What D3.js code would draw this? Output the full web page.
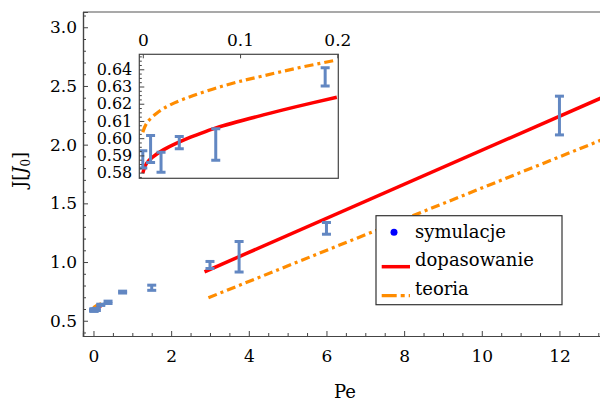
<!DOCTYPE html>
<meta charset="utf-8">
<style>
body { margin: 0; background: #fff; }
svg { font-family: "DejaVu Serif", serif; }
.axis line, .axis path { stroke: #444; }
</style>
<svg width="600" height="403"></svg>
<script src="https://d3js.org/d3.v7.min.js"></script>
<script>

// symulacje: Pe, J, blad
var pe = [0, 0.008, 0.01875, 0.0375, 0.075, 0.1875, 0.375, 0.75, 1.5, 3, 3.75, 6, 12];
var jVal = [0.5877, 0.5937, 0.586, 0.5974, 0.5963, 0.6356, 0.657, 0.744, 0.781, 0.975, 1.045, 1.287, 2.248];
var jErr = [0.005, 0.0078, 0.0058, 0.0036, 0.0091, 0.0053, 0.01, 0.008, 0.022, 0.03, 0.13, 0.05, 0.165];

// dopasowanie
var fitPeSmall = [0, 0.004, 0.0108, 0.0211, 0.0383, 0.0555, 0.076, 0.124, 0.158, 0.1995];
var fitJSmall = [0.5797, 0.5855, 0.5893, 0.5932, 0.598, 0.6019, 0.6061, 0.6135, 0.6183, 0.6238];
var fitPeBig = [2.86, 13.07];
var fitJBig = [0.917, 2.397];

// teoria
var theoPeSmall = [0, 0.004, 0.0143, 0.028, 0.0486, 0.0725, 0.0966, 0.124, 0.158, 0.1995];
var theoJSmall = [0.6034, 0.6087, 0.6145, 0.6193, 0.6241, 0.6286, 0.6325, 0.6362, 0.6406, 0.6454];
var theoPeBig = [2.96, 13.07];
var theoJBig = [0.696, 2.038];

var xTicks = [0, 2, 4, 6, 8, 10, 12];
var yTicks = [0.5, 1.0, 1.5, 2.0, 2.5, 3.0];
var insetXTicks = [0, 0.1, 0.2];
var insetYTicks = [0.58, 0.59, 0.60, 0.61, 0.62, 0.63, 0.64];
var legendNames = ["symulacje", "dopasowanie", "teoria"];

var blue = "#6287c2", red = "#ff0000", orange = "#ff8c00";
var dotdash = "9,4,3,4";

var svg = d3.select("svg");

var x = d3.scaleLinear().domain([-0.27, 13.07]).range([83, 601]);
var y = d3.scaleLinear().domain([0.37, 3.13]).range([336, 12]);

var points = pe.map(function(p, i) { return {pe: p, j: jVal[i], e: jErr[i]}; });
function zip(a, b) { return a.map(function(v, i) { return [v, b[i]]; }); }

// ramka glowna
svg.append("line").attr("x1", 83).attr("x2", 601).attr("y1", 12).attr("y2", 12)
  .attr("stroke", "#555").attr("stroke-width", 1.2);

svg.append("g").attr("class", "axis")
  .attr("transform", "translate(0,336)")
  .call(d3.axisBottom(x).tickValues(xTicks).tickSize(-5).tickPadding(14).tickFormat(d3.format("d")));
svg.append("g").attr("class", "axis")
  .attr("transform", "translate(0,336)")
  .call(d3.axisBottom(x).tickValues(d3.range(0, 13.1, 0.5).filter(function(v) { return v % 2 != 0; }))
    .tickSize(-3).tickFormat(""));
svg.append("g").attr("class", "axis")
  .attr("transform", "translate(83,0)")
  .call(d3.axisLeft(y).tickValues(yTicks).tickSize(-5).tickPadding(6).tickFormat(d3.format(".1f")));
svg.append("g").attr("class", "axis")
  .attr("transform", "translate(83,0)")
  .call(d3.axisLeft(y).tickValues(d3.range(0.4, 3.11, 0.1).filter(function(v) { return Math.abs(v * 2 - Math.round(v * 2)) > 0.01; }))
    .tickSize(-3).tickFormat(""));
svg.selectAll(".axis text").attr("font-size", 17).attr("fill", "#000").attr("font-family", "DejaVu Serif");
svg.selectAll(".axis path").attr("stroke-width", 1.2);

// etykiety osi
svg.append("text").attr("x", 345).attr("y", 398).attr("text-anchor", "middle")
  .attr("font-size", 18).text("Pe");
var yl = svg.append("text").attr("transform", "translate(26,170) rotate(-90)")
  .attr("text-anchor", "middle").attr("font-size", 18);
yl.append("tspan").text("J[");
yl.append("tspan").attr("font-style", "italic").text("J");
yl.append("tspan").attr("font-size", 12).attr("dy", 4).text("0");
yl.append("tspan").attr("dy", -4).text("]");

var line = d3.line().x(function(d) { return x(d[0]); }).y(function(d) { return y(d[1]); });

function errorBars(g, data, xs, ys) {
  var bars = g.append("g").selectAll("g").data(data).enter().append("g")
    .attr("stroke", blue).attr("stroke-width", 3);
  bars.append("line")
    .attr("x1", function(d) { return xs(d.pe); }).attr("x2", function(d) { return xs(d.pe); })
    .attr("y1", function(d) { return ys(d.j - d.e); }).attr("y2", function(d) { return ys(d.j + d.e); });
  [-1, 1].forEach(function(s) {
    bars.append("line")
      .attr("x1", function(d) { return xs(d.pe) - 4.5; }).attr("x2", function(d) { return xs(d.pe) + 4.5; })
      .attr("y1", function(d) { return ys(d.j + s * d.e); }).attr("y2", function(d) { return ys(d.j + s * d.e); });
  });
}

// krzywe glowne
svg.append("path").attr("d", line(zip(fitPeBig, fitJBig))).attr("fill", "none")
  .attr("stroke", red).attr("stroke-width", 3.5);
svg.append("path").attr("d", line(zip(theoPeBig, theoJBig))).attr("fill", "none")
  .attr("stroke", orange).attr("stroke-width", 3.2).attr("stroke-dasharray", dotdash);
svg.append("path").attr("d", line(zip(theoPeSmall, theoJSmall))).attr("fill", "none")
  .attr("stroke", orange).attr("stroke-width", 3);
svg.append("path").attr("d", line(zip(fitPeSmall, fitJSmall))).attr("fill", "none")
  .attr("stroke", red).attr("stroke-width", 3);
errorBars(svg, points, x, y);

// wstawka
var ix = d3.scaleLinear().domain([-0.0036, 0.201]).range([139.3, 338.3]);
var iy = d3.scaleLinear().domain([0.5767, 0.6487]).range([178.3, 54.3]);

svg.append("clipPath").attr("id", "insetClip").append("rect")
  .attr("x", 139.3).attr("y", 54.3).attr("width", 199).attr("height", 124);
svg.append("rect").attr("x", 139.3).attr("y", 54.3).attr("width", 199).attr("height", 124)
  .attr("fill", "#fff");

var inset = svg.append("g").attr("clip-path", "url(#insetClip)");
var iline = d3.line().x(function(d) { return ix(d[0]); }).y(function(d) { return iy(d[1]); })
  .curve(d3.curveCatmullRom.alpha(0.5));
inset.append("path").attr("d", iline(zip(theoPeSmall, theoJSmall))).attr("fill", "none")
  .attr("stroke", orange).attr("stroke-width", 3.2).attr("stroke-dasharray", dotdash);
inset.append("path").attr("d", iline(zip(fitPeSmall, fitJSmall))).attr("fill", "none")
  .attr("stroke", red).attr("stroke-width", 3.5);
errorBars(inset, points.filter(function(d) { return d.pe <= 0.2; }), ix, iy);

svg.append("rect").attr("x", 139.3).attr("y", 54.3).attr("width", 199).attr("height", 124)
  .attr("fill", "none").attr("stroke", "#444").attr("stroke-width", 1.2);

svg.append("g").attr("class", "axis").attr("transform", "translate(0,54.3)")
  .call(d3.axisTop(ix).tickValues(insetXTicks).tickSize(-4).tickPadding(8)
    .tickFormat(function(d) { return d === 0 ? "0" : d3.format(".1f")(d); }))
  .call(function(g) { g.select(".domain").remove(); });
svg.append("g").attr("class", "axis inset-y").attr("transform", "translate(139.3,0)")
  .call(d3.axisLeft(iy).tickValues(insetYTicks).tickSize(-5).tickPadding(7).tickFormat(d3.format(".2f")))
  .call(function(g) { g.select(".domain").remove(); });
svg.append("g").attr("class", "axis").attr("transform", "translate(139.3,0)")
  .call(d3.axisLeft(iy).tickValues(d3.range(0.5775, 0.648, 0.0025).filter(function(v) { return Math.abs(v * 100 - Math.round(v * 100)) > 0.05; }))
    .tickSize(-2.5).tickFormat(""))
  .call(function(g) { g.select(".domain").remove(); });
svg.selectAll(".axis text").attr("font-size", 17).attr("fill", "#000").attr("font-family", "DejaVu Serif");
svg.selectAll(".inset-y text").attr("font-size", 16);

// legenda
var lg = svg.append("g").attr("transform", "translate(376,215.7)");
lg.append("rect").attr("width", 186).attr("height", 89).attr("fill", "#fff")
  .attr("stroke", "#333").attr("stroke-width", 1.2);
lg.append("circle").attr("cx", 18).attr("cy", 16.6).attr("r", 3.5).attr("fill", "#0000ff");
lg.append("line").attr("x1", 5.7).attr("x2", 34).attr("y1", 51).attr("y2", 51)
  .attr("stroke", red).attr("stroke-width", 3.5);
lg.append("line").attr("x1", 5.7).attr("x2", 34).attr("y1", 80).attr("y2", 80)
  .attr("stroke", orange).attr("stroke-width", 3.2).attr("stroke-dasharray", "15,4,4,4");
lg.selectAll("text.lab").data(legendNames).enter().append("text").attr("class", "lab")
  .attr("x", 39).attr("y", function(d, i) { return 22 + i * 28.5; })
  .attr("font-size", 18).text(function(d) { return d; });

</script>
